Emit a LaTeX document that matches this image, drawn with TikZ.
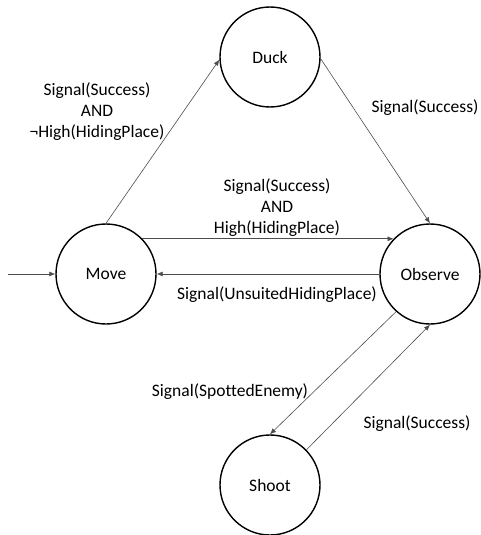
\documentclass[tikz,border=0pt]{standalone}
\usepackage{fontspec}
\setmainfont{Carlito}[Ligatures=NoCommon]
\usetikzlibrary{arrows.meta}
\tikzset{
  state/.style={circle, draw=black, line width=1.4pt, minimum size=100pt, inner sep=0pt, font=\fontsize{17.5}{21}\selectfont},
  edge/.style={draw=black!70, line width=0.6pt, -{Latex[length=6pt,width=5pt]}},
  lbl/.style={align=center, inner sep=0pt, font=\fontsize{17.5}{21}\selectfont}
}
\begin{document}
\begin{tikzpicture}[x=1pt,y=-1pt]
\useasboundingbox (0,0) rectangle (480,535);
\node[state] (Duck) at (270,57) {Duck};
\node[state] (Move) at (106,274) {Move};
\node[state] (Observe) at (430,274) {Observe};
\node[state] (Shoot) at (270,485) {Shoot};
\coordinate (start) at (8,274);

\draw[edge] (start) -- (Move.west);
\draw[edge] (Move.north) -- (Duck.183);
\draw[edge] (Duck.-2) -- (Observe.north);
\draw[edge] (Move.44) -- (Observe.136);
\draw[edge] (Observe.west) -- (Move.east);
\draw[edge] (Observe.228) -- (Shoot.north);
\draw[edge] (Shoot.44) -- (Observe.south);

\node[lbl] (l1) at (97,112) {Signal(Success)\\AND\\¬High(HidingPlace)};
\node[lbl] (l2) at (425,108) {Signal(Success)};
\node[lbl] (l3) at (277,208) {Signal(Success)\\AND\\High(HidingPlace)};
\node[lbl] (l4) at (277,295) {Signal(UnsuitedHidingPlace)};
\node[lbl] (l5) at (230,392) {Signal(SpottedEnemy)};
\node[lbl] (l6) at (417,424) {Signal(Success)};
\end{tikzpicture}
\end{document}
